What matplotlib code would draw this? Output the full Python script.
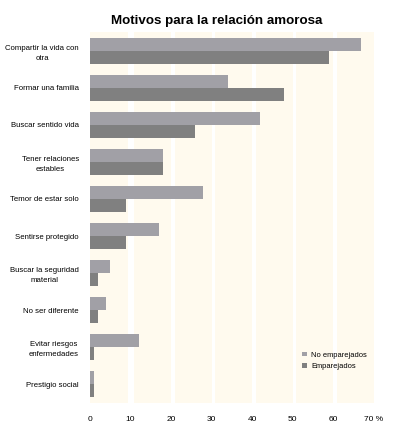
import numpy as np
from matplotlib import pyplot as plt

# categories (top to bottom)
motivos = ["Compartir la vida con\notra", "Formar una familia", "Buscar sentido vida",
           "Tener relaciones\nestables", "Temor de estar solo", "Sentirse protegido",
           "Buscar la seguridad\nmaterial", "No ser diferente", "Evitar riesgos\nenfermedades",
           "Prestigio social"]
no_emparejados = [67, 34, 42, 18, 28, 17, 5, 4, 12, 1]
emparejados = [59, 48, 26, 18, 9, 9, 2, 2, 1, 1]
xticks = [0, 10, 20, 30, 40, 50, 60, 70]
xtick_labels = ["0", "10", "20", "30", "40", "50", "60", "70 %"]

plt.rcParams['font.family'] = 'Liberation Sans'
fig = plt.figure(figsize=(3.97, 4.29), dpi=100)
ax = fig.add_axes([0.2267, 0.0606, 0.7143, 0.8648])

# cream background bands between gridlines
ax.axvspan(0, 9.4, color='#fffaee', lw=0, zorder=0)
for k in range(1, 7):
    ax.axvspan(10 * k + 0.9, 10 * k + 10, color='#fffaee', lw=0, zorder=0)

y = np.arange(len(motivos))
h = 0.35
ax.barh(y - h / 2, no_emparejados, height=h, color='#a1a0a6', label='No emparejados', zorder=2)
ax.barh(y + h / 2, emparejados, height=h, color='#808080', label='Emparejados', zorder=2)

ax.set_xlim(0, 70)
ax.set_ylim(len(motivos) - 0.5, -0.5)
ax.set_yticks(y)
ax.set_yticklabels(motivos, fontsize=5.6, multialignment='center', linespacing=1.6)
ax.set_xticks(xticks)
ax.set_xticklabels(xtick_labels, fontsize=6)
ax.tick_params(length=0)
ax.tick_params(axis='y', pad=8)
ax.tick_params(axis='x', pad=9)
for s in ax.spines.values():
    s.set_visible(False)

ax.legend(loc='lower right', bbox_to_anchor=(1.0, 0.07), frameon=False, fontsize=5.4,
          handlelength=0.6, handleheight=0.6, handletextpad=0.6, labelspacing=0.6)

fig.text(0.545, 0.951, "Motivos para la relación amorosa", ha='center', va='center',
         fontsize=9.6, fontweight='bold')

fig.savefig("out.png", dpi=100)
